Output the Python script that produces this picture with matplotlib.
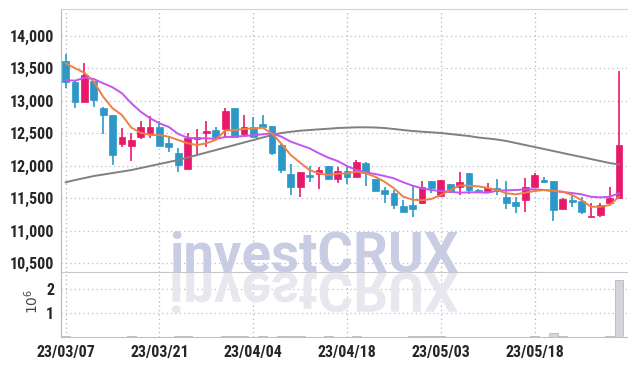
import matplotlib
matplotlib.use("Agg")
import matplotlib.pyplot as plt
import numpy as np
from matplotlib.textpath import TextPath
from matplotlib.font_manager import FontProperties, fontManager
from matplotlib.patches import PathPatch
from matplotlib.transforms import Affine2D

# ---------------- data ----------------
tick_pos = [0, 10, 20, 30, 40, 50]
tick_labels = ["23/03/07", "23/03/21", "23/04/04", "23/04/18", "23/05/03", "23/05/18"]

open_ = [13615, 13296, 12988, 13307, 12891, 12783, 12337, 12311, 12440, 12511,
         12594, 12348, 12194, 11947, 12414, 12511, 12552, 12568, 12887, 12486,
         12594, 12645, 12614, 12321, 11875, 11679, 11859, 11875, 11998, 11793,
         11921, 11833, 12040, 11798, 11628, 11578, 11382, 11397, 11423, 11767,
         11536, 11721, 11679, 11886, 11628, 11618, 11655, 11525, 11448, 11474,
         11679, 11782, 11767, 11336, 11474, 11459, 11220, 11243, 11433, 11500]
high = [13723, 13300, 13580, 13310, 12900, 12790, 12588, 12502, 12691, 12768,
        12691, 12440, 12280, 12502, 12568, 12695, 12594, 12887, 12890, 12783,
        12748, 12783, 12620, 12330, 12024, 11910, 12003, 11987, 12005, 11987,
        12003, 12090, 12064, 11800, 11679, 11628, 11474, 11695, 11772, 11770,
        11790, 11725, 11901, 11890, 11640, 11732, 11793, 11772, 11525, 11818,
        11886, 11833, 11770, 11510, 11536, 11525, 11423, 11433, 11670, 13466]
low = [13195, 12887, 12988, 12914, 12486, 12013, 12295, 12075, 12409, 12425,
       12300, 12218, 11901, 11947, 12167, 12295, 12430, 12425, 12440, 12449,
       12440, 12590, 12167, 11895, 11551, 11525, 11756, 11639, 11780, 11732,
       11721, 11830, 11690, 11610, 11423, 11336, 11279, 11217, 11420, 11587,
       11530, 11590, 11551, 11562, 11610, 11615, 11551, 11331, 11270, 11294,
       11670, 11732, 11151, 11330, 11371, 11259, 11215, 11208, 11430, 11495]
close = [13287, 12988, 13399, 13014, 12783, 12167, 12440, 12399, 12594, 12594,
         12311, 12295, 12013, 12425, 12440, 12537, 12440, 12845, 12449, 12594,
         12449, 12594, 12203, 11936, 11679, 11910, 11833, 11936, 11793, 11921,
         11833, 12064, 11886, 11618, 11567, 11397, 11294, 11336, 11670, 11664,
         11782, 11593, 11747, 11628, 11613, 11664, 11618, 11433, 11387, 11670,
         11859, 11756, 11320, 11490, 11448, 11294, 11230, 11397, 11500, 12321]
volume = [0.05, 0.02, 0.02, 0.02, 0.02, 0.02, 0.02, 0.03, 0.02, 0.02,
          0.02, 0.02, 0.03, 0.03, 0.02, 0.02, 0.02, 0.03, 0.03, 0.03,
          0.02, 0.03, 0.02, 0.03, 0.03, 0.03, 0.02, 0.02, 0.03, 0.02,
          0.02, 0.03, 0.02, 0.02, 0.02, 0.02, 0.02, 0.03, 0.03, 0.03,
          0.03, 0.02, 0.02, 0.02, 0.02, 0.02, 0.02, 0.02, 0.02, 0.02,
          0.03, 0.02, 0.18, 0.03, 0.02, 0.02, 0.02, 0.02, 0.06, 2.37]  # x 1e6

ma_short = [13580, 13503, 13435, 13296, 13065, 12887, 12783, 12588, 12511, 12475,
            12475, 12449, 12399, 12348, 12321, 12348, 12400, 12545, 12552, 12568,
            12578, 12588, 12502, 12340, 12167, 12050, 11936, 11886, 11859, 11880,
            11885, 11910, 11886, 11833, 11756, 11655, 11525, 11480, 11470, 11492,
            11551, 11625, 11700, 11695, 11685, 11660, 11628, 11578, 11562, 11587,
            11613, 11628, 11618, 11603, 11551, 11474, 11371, 11371, 11397, 11525]
ma_mid = [13322, 13312, 13358, 13338, 13272, 13210, 13118, 12964, 12834, 12733,
          12656, 12599, 12491, 12434, 12425, 12425, 12414, 12445, 12449, 12460,
          12471, 12486, 12502, 12449, 12374, 12321, 12271, 12194, 12127, 12075,
          11998, 11936, 11901, 11875, 11844, 11808, 11747, 11695, 11655, 11628,
          11613, 11603, 11587, 11593, 11593, 11587, 11618, 11624, 11628, 11639,
          11639, 11628, 11613, 11598, 11582, 11562, 11525, 11515, 11525, 11578]
ma_long = [11747, 11782, 11813, 11844, 11867, 11890, 11913, 11936, 11967, 11998,
           12029, 12060, 12090, 12129, 12167, 12206, 12244, 12283, 12321, 12360,
           12398, 12437, 12475, 12506, 12526, 12542, 12552, 12563, 12572, 12583,
           12588, 12594, 12594, 12591, 12583, 12568, 12552, 12537, 12526, 12517,
           12506, 12491, 12475, 12460, 12437, 12422, 12406, 12383, 12352, 12321,
           12291, 12260, 12229, 12198, 12167, 12137, 12106, 12075, 12044, 12021]

price_ticks = [10500, 11000, 11500, 12000, 12500, 13000, 13500, 14000]
vol_ticks = [1, 2]

# ---------------- style ----------------
UP = "#e8196a"
DOWN = "#2d98c8"
W, H = 634, 366

installed = {f.name for f in fontManager.ttflist}
cands = ["Roboto Condensed", "DejaVu Sans Condensed", "Liberation Sans Narrow",
         "Open Sans Condensed", "Roboto", "DejaVu Sans"]
FONT = [f for f in cands if f in installed] + ["DejaVu Sans"]
condensed = FONT[0] in ("Roboto Condensed", "DejaVu Sans Condensed", "Liberation Sans Narrow", "Open Sans Condensed")
LSIZE = 11.5 if condensed else 10.3

fig = plt.figure(figsize=(W / 100, H / 100), dpi=100)
ax = fig.add_axes([61 / W, (H - 272) / H, 566 / W, 263 / H])
axv = fig.add_axes([61 / W, (H - 337) / H, 566 / W, 65 / H], sharex=ax)
for a in (ax, axv):
    a.set_facecolor("none")

# watermark: real text, with its mirrored reflection drawn as a shape
wm_family = "Roboto" if "Roboto" in installed else "DejaVu Sans"
fp = FontProperties(family=wm_family, weight="bold")
tp = TextPath((0, 0), "investCRUX", size=100, prop=fp)
ext = tp.get_extents()
em_px = 100 * 286 / ext.width          # em size in pixels so that width = 286 px
k = em_px / 100
base_y = H - 272
wm_r = PathPatch(tp, transform=Affine2D().translate(-ext.x0, 0).scale(k, -k).translate(172, base_y - 1),
                 facecolor="#e6e7ef", edgecolor="none", zorder=0)
fig.patches.append(wm_r)
fig.text((172 - ext.x0 * k) / W, (base_y + 1) / H, "investCRUX", fontproperties=fp,
         fontsize=em_px * 72 / 100, color="#c9cde3", ha="left", va="baseline", zorder=0)

x = np.arange(len(close))
o = np.array(open_); c = np.array(close); hi = np.array(high); lo = np.array(low)
up = c >= o
cols = np.where(up, UP, DOWN)
body_b = np.minimum(o, c)
body_h = np.maximum(np.abs(c - o), 15)

ax.vlines(x, lo, hi, colors=cols, linewidth=1.2, zorder=3)
ax.bar(x, body_h, bottom=body_b, width=0.72, color=cols, edgecolor=cols, linewidth=0.5, zorder=4)

ax.plot(x, ma_long, color="#808080", lw=1.4, zorder=5)
ax.plot(x, ma_mid, color="#c455ee", lw=1.4, zorder=5)
ax.plot(x, ma_short, color="#ee8044", lw=1.4, zorder=6)

ax.set_ylim(10366, 14416)
ax.set_xlim(-0.5, 59.85)
ax.set_yticks(price_ticks)
ax.set_yticklabels([f"{v:,}" for v in price_ticks])

axv.bar(x, np.array(volume) * 1e6, width=0.95, color="#d4d4dc", edgecolor="#b9b9c2", linewidth=0.6, zorder=3)
axv.set_ylim(0, 2.69e6)
axv.set_yticks([v * 1e6 for v in vol_ticks])
axv.set_yticklabels([str(v) for v in vol_ticks])
axv.set_xticks(tick_pos)
axv.set_xticklabels(tick_labels)

for a in (ax, axv):
    a.grid(True, which="major", axis="y", linestyle=(0, (1, 2.5)), color="#b9bfd8", linewidth=0.9)
    a.grid(True, which="major", axis="x", linestyle=(0, (1, 2.5)), color="#b4b4be", linewidth=0.9)
    a.set_axisbelow(True)
    a.tick_params(length=0, pad=5, labelcolor="#262626")
    for lab in a.get_yticklabels() + a.get_xticklabels():
        lab.set_family(FONT)
        lab.set_fontweight("bold")
        lab.set_fontsize(LSIZE)
    a.spines["right"].set_visible(False)
    a.spines["left"].set_color("#b8b8b8")

ax.tick_params(axis="x", labelbottom=False)
ax.set_xticks(tick_pos)
ax.spines["top"].set_color("#d4d4d4")
ax.spines["bottom"].set_color("#c8c8c8")
axv.spines["top"].set_visible(False)
axv.spines["bottom"].set_color("#c0c0c0")
axv.tick_params(axis="x", pad=6)

fig.text(32 / W, 1 - 301 / H, r"$10^6$", rotation=90, ha="center", va="center",
         fontsize=10, color="#444444")

fig.savefig("out.png", dpi=100)
